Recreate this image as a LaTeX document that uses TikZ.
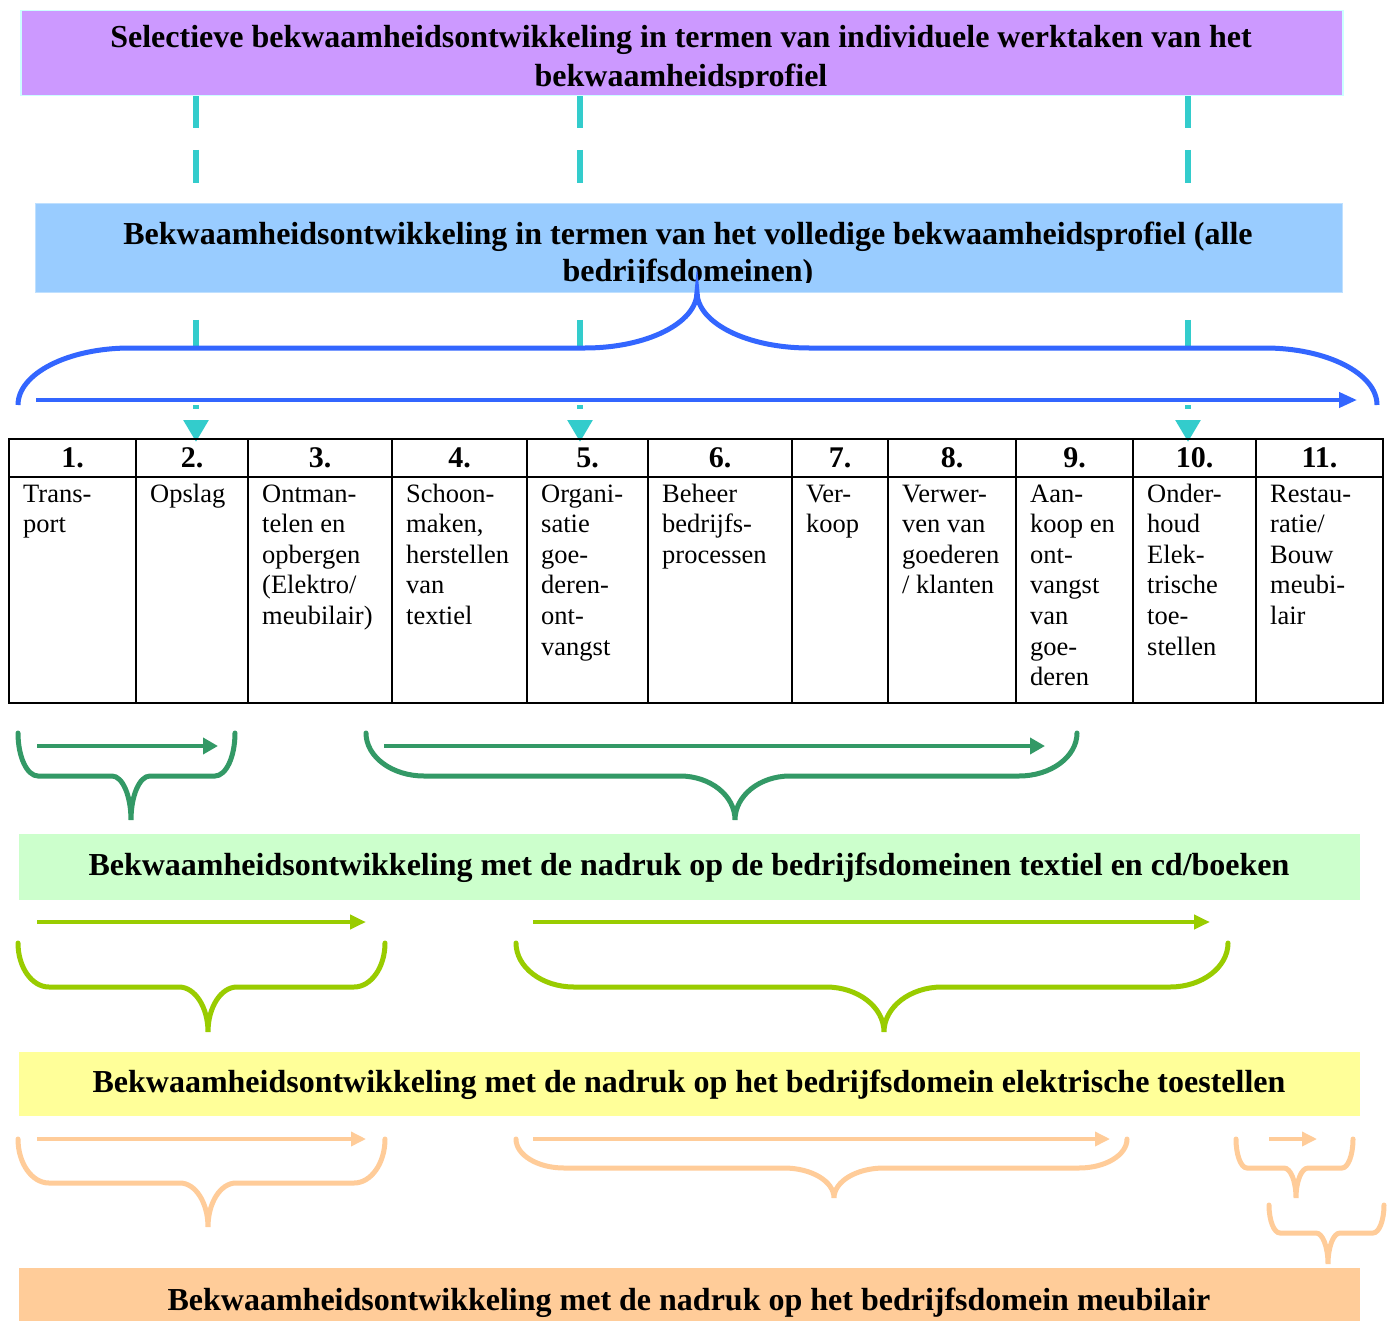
\documentclass[tikz,border=0pt]{standalone}
\usepackage{fontspec}
\setmainfont{Liberation Serif}
\usetikzlibrary{arrows.meta}

\definecolor{purpfill}{HTML}{CC99FF}
\definecolor{purpline}{HTML}{CCFFFF}
\definecolor{bluefill}{HTML}{99CCFF}
\definecolor{blueline}{HTML}{BFE0FF}
\definecolor{cyanl}{HTML}{33CCCC}
\definecolor{braceblue}{HTML}{3366FF}
\definecolor{gdark}{HTML}{339966}
\definecolor{gfill}{HTML}{CCFFCC}
\definecolor{ylgreen}{HTML}{99CC00}
\definecolor{yfill}{HTML}{FFFF99}
\definecolor{orng}{HTML}{FFCC99}

% #1 style, #2 xl, #3 xr, #4 xt, #5 y ends, #6 y horizontal, #7 y tip, #8 end radius, #9 tip radius
\newcommand\curlybr[9]{%
  \pgfmathsetmacro\cbA{#2+0.448*#8}%
  \pgfmathsetmacro\cbB{#2+#8}%
  \pgfmathsetmacro\cbC{#5+0.552*(#6-#5)}%
  \pgfmathsetmacro\cbD{#4-#9}%
  \pgfmathsetmacro\cbE{#4-0.448*#9}%
  \pgfmathsetmacro\cbF{#6+0.448*(#7-#6)}%
  \pgfmathsetmacro\cbG{#4+0.448*#9}%
  \pgfmathsetmacro\cbH{#4+#9}%
  \pgfmathsetmacro\cbI{#3-#8}%
  \pgfmathsetmacro\cbJ{#3-0.448*#8}%
  \draw[#1] (#2,#5) .. controls (#2,\cbC) and (\cbA,#6) .. (\cbB,#6) -- (\cbD,#6)
    .. controls (\cbE,#6) and (#4,\cbF) .. (#4,#7)
    .. controls (#4,\cbF) and (\cbG,#6) .. (\cbH,#6) -- (\cbI,#6)
    .. controls (\cbJ,#6) and (#3,\cbC) .. (#3,#5);
}
\newcommand\celllines[1]{\begin{tabular}[t]{@{}l@{}}#1\end{tabular}}
\newcommand\titlelines[1]{\begin{tabular}[t]{@{}c@{}}#1\end{tabular}}

\tikzset{
  dashcon/.style={cyanl, line width=6pt,
    dash pattern=on 33pt off 22pt on 33pt off 22pt on 33pt off 22pt on 33pt off 27pt on 26pt off 59pt on 4pt off 40pt,
    -{Triangle[length=22pt,width=24pt]}},
  titletext/.style={anchor=base, inner sep=0pt, font=\fontsize{32}{37}\selectfont\bfseries},
  bandtext/.style={anchor=base, inner sep=0pt, font=\fontsize{32}{37}\selectfont\bfseries},
  hcell/.style={draw, line width=2.5pt, minimum height=38pt, inner sep=0pt,
    font=\fontsize{30}{36}\selectfont\bfseries},
  bcell/.style={draw, line width=2.5pt, minimum height=226pt, inner sep=0pt},
  ctext/.style={anchor=base west, inner sep=0pt, font=\fontsize{26.5}{30.6}\selectfont},
  bluebr/.style={braceblue, line width=5pt},
  bluearr/.style={braceblue, line width=4pt, -{Triangle[length=18pt,width=15pt]}},
  greenbr/.style={gdark, line width=5pt, line cap=round},
  greenarr/.style={gdark, line width=4pt, -{Triangle[length=15pt,width=16pt]}},
  ylbr/.style={ylgreen, line width=5pt, line cap=round},
  ylarr/.style={ylgreen, line width=4pt, -{Triangle[length=16pt,width=14pt]}},
  orbr/.style={orng, line width=5pt, line cap=round},
  orarr/.style={orng, line width=3.5pt, -{Triangle[length=15pt,width=14pt]}},
}

\begin{document}
\begin{tikzpicture}[x=1pt,y=-1pt]
\useasboundingbox (0,0) rectangle (1391,1321);
\fill[white] (0,0) rectangle (1391,1321);

% dashed connectors from the top box to the table
\coordinate (s2) at (196,95);  \coordinate (e2) at (196,442);
\coordinate (s5) at (580,95);  \coordinate (e5) at (580,442);
\coordinate (s10) at (1188,95); \coordinate (e10) at (1188,442);
\draw[dashcon] (s2) -- (e2);
\draw[dashcon] (s5) -- (e5);
\draw[dashcon] (s10) -- (e10);

% top box
\node[draw=purpline, line width=1.5pt, fill=purpfill, anchor=north west, inner sep=0pt,
  minimum width=1322pt, minimum height=85pt] (selbox) at (20,10) {};
\begin{scope}
\clip (20,10) rectangle (1342,88);
\node[titletext] (seltext) at (681,48) {\titlelines{Selectieve bekwaamheidsontwikkeling in termen van individuele werktaken van het\\[2pt] bekwaamheidsprofiel}};
\end{scope}

% second box
\node[draw=blueline, line width=1pt, fill=bluefill, anchor=north west, inner sep=0pt,
  minimum width=1307pt, minimum height=89pt] (fullbox) at (35,203) {};
\begin{scope}
\clip (35,203) rectangle (1342,283);
\node[titletext] (fulltext) at (688,245) {\titlelines{Bekwaamheidsontwikkeling in termen van het volledige bekwaamheidsprofiel (alle\\ bedrijfsdomeinen)}};
\end{scope}

% big blue brace and arrow
\curlybr{bluebr}{18}{1377}{697}{405}{348}{292}{112}{112}
\coordinate (ba1) at (36,400); \coordinate (ba2) at (1357,400);
\draw[bluearr] (ba1) -- (ba2);

% table
\foreach \i/\l/\r in {1/9/136, 2/136/248, 3/248/392, 4/392/527, 5/527/648, 6/648/792,
                      7/792/888, 8/888/1016, 9/1016/1133, 10/1133/1256, 11/1256/1383}{
  \pgfmathsetmacro\cx{(\l+\r)/2}
  \pgfmathsetmacro\cw{\r-\l}
  \node[hcell, minimum width=\cw pt] (h\i) at (\cx,458) {\i.};
  \node[bcell, minimum width=\cw pt] (b\i) at (\cx,590) {};
}
\node[ctext] (t1) at (23,502) {\celllines{Trans-\\ port}};
\node[ctext] (t2) at (150,502) {\celllines{Opslag}};
\node[ctext] (t3) at (262,502) {\celllines{Ontman-\\ telen en\\ opbergen\\ (Elektro/\\ meubilair)}};
\node[ctext] (t4) at (406,502) {\celllines{Schoon-\\ maken,\\ herstellen\\ van\\ textiel}};
\node[ctext] (t5) at (541,502) {\celllines{Organi-\\ satie\\ goe-\\ deren-\\ ont-\\ vangst}};
\node[ctext] (t6) at (662,502) {\celllines{Beheer\\ bedrijfs-\\ processen}};
\node[ctext] (t7) at (806,502) {\celllines{Ver-\\ koop}};
\node[ctext] (t8) at (902,502) {\celllines{Verwer-\\ ven van\\ goederen\\ / klanten}};
\node[ctext] (t9) at (1030,502) {\celllines{Aan-\\ koop en\\ ont-\\ vangst\\ van\\ goe-\\ deren}};
\node[ctext] (t10) at (1147,502) {\celllines{Onder-\\ houd\\ Elek-\\ trische\\ toe-\\ stellen}};
\node[ctext] (t11) at (1270,502) {\celllines{Restau-\\ ratie/\\ Bouw\\ meubi-\\ lair}};

% green band
\coordinate (ga1) at (37,746); \coordinate (ga2) at (218,746);
\coordinate (ga3) at (384,746); \coordinate (ga4) at (1045,746);
\draw[greenarr] (ga1) -- (ga2);
\draw[greenarr] (ga3) -- (ga4);
\curlybr{greenbr}{18}{235}{131}{733}{776}{820}{20}{19}
\curlybr{greenbr}{366}{1077}{735}{733}{776}{820}{58}{55}
\fill[gfill] (19,834) rectangle (1360,900);
\node[bandtext] (gtext) at (689,875) {Bekwaamheidsontwikkeling met de nadruk op de bedrijfsdomeinen textiel en cd/boeken};

% yellow band
\coordinate (ya1) at (37,922); \coordinate (ya2) at (366,922);
\coordinate (ya3) at (533,922); \coordinate (ya4) at (1210,922);
\draw[ylarr] (ya1) -- (ya2);
\draw[ylarr] (ya3) -- (ya4);
\curlybr{ylbr}{18}{385}{208}{943}{987}{1032}{31}{29}
\curlybr{ylbr}{516}{1228}{884}{943}{987}{1032}{58}{58}
\fill[yfill] (19,1052) rectangle (1360,1116);
\node[bandtext] (ytext) at (689,1092) {Bekwaamheidsontwikkeling met de nadruk op het bedrijfsdomein elektrische toestellen};

% orange band
\coordinate (oa1) at (37,1139); \coordinate (oa2) at (366,1139);
\coordinate (oa3) at (533,1139); \coordinate (oa4) at (1110,1139);
\coordinate (oa5) at (1269,1139); \coordinate (oa6) at (1317,1139);
\draw[orarr] (oa1) -- (oa2);
\draw[orarr] (oa3) -- (oa4);
\draw[orarr] (oa5) -- (oa6);
\curlybr{orbr}{18}{385}{208}{1139}{1183}{1227}{31}{28}
\curlybr{orbr}{516}{1127}{834}{1139}{1168}{1198}{48}{50}
\curlybr{orbr}{1236}{1353}{1296}{1139}{1168}{1198}{11}{12}
\curlybr{orbr}{1269}{1384}{1328}{1205}{1233}{1264}{11}{12}
\fill[orng] (19,1268) rectangle (1360,1330);
\node[bandtext] (otext) at (689,1310) {Bekwaamheidsontwikkeling met de nadruk op het bedrijfsdomein meubilair};
\end{tikzpicture}
\end{document}
